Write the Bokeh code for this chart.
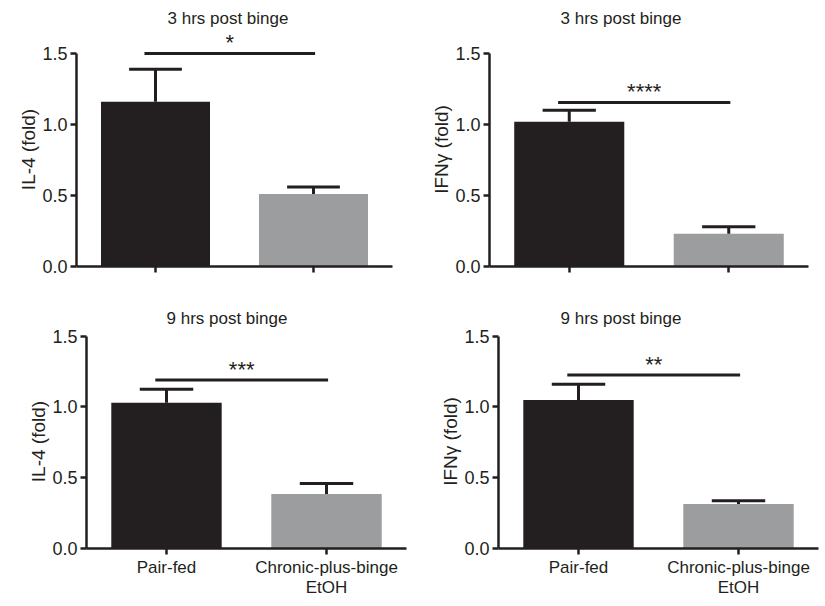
from bokeh.plotting import figure
from bokeh.layouts import column, row
from bokeh.models import Range1d, FactorRange, ColumnDataSource
from bokeh.transform import dodge
from bokeh.embed import file_html
from bokeh.resources import INLINE
from bokeh.core.properties import value

# ---- data ----
categories = ["Pair-fed", "Chronic-plus-binge\nEtOH"]
titles = ["3 hrs post binge", "3 hrs post binge", "9 hrs post binge", "9 hrs post binge"]
ylabels = ["IL-4 (fold)", "IFNγ (fold)", "IL-4 (fold)", "IFNγ (fold)"]
means_il4_3h = [1.16, 0.51]
err_il4_3h = [1.39, 0.56]
means_ifn_3h = [1.02, 0.23]
err_ifn_3h = [1.10, 0.28]
means_il4_9h = [1.03, 0.385]
err_il4_9h = [1.125, 0.46]
means_ifn_9h = [1.05, 0.315]
err_ifn_9h = [1.16, 0.337]
sig_y = [1.5, 1.155, 1.19, 1.225]
sig_labels = ["*", "****", "***", "**"]
bar_colors = ["#231f20", "#9c9d9f"]

FONT = "Liberation Sans"
INK = "#231f20"

means = [means_il4_3h, means_ifn_3h, means_il4_9h, means_ifn_9h]
errs = [err_il4_3h, err_ifn_3h, err_il4_9h, err_ifn_9h]

# layout specs per panel
specs = [
    dict(w=412, h=298, bl=76, br=20, bt=32, bb=32, yend=1.648, toff=91, tstand=10, labels=False),
    dict(w=413, h=298, bl=77, br=17, bt=32, bb=32, yend=1.648, toff=71, tstand=10, labels=False),
    dict(w=412, h=306, bl=86, br=6, bt=36, bb=56, yend=1.512, toff=80, tstand=14, labels=True),
    dict(w=413, h=306, bl=86, br=7, bt=36, bb=56, yend=1.512, toff=62, tstand=14, labels=True),
]


def make_panel(i):
    s = specs[i]
    p = figure(width=s["w"], height=s["h"], x_range=FactorRange(*categories, range_padding=0),
               y_range=Range1d(0, s["yend"]), output_backend="svg", toolbar_location=None,
               min_border_left=s["bl"], min_border_right=s["br"],
               min_border_top=s["bt"], min_border_bottom=s["bb"])
    p.outline_line_color = None
    p.grid.visible = False

    p.title.text = titles[i]
    p.title.align = "left"
    p.title.offset = s["toff"]
    p.title.text_font = FONT
    p.title.text_font_size = "17px"
    p.title.text_font_style = "normal"
    p.title.text_color = INK
    p.title.standoff = s["tstand"]

    src = ColumnDataSource(dict(x=categories, top=means[i], err=errs[i], color=bar_colors))
    p.vbar(x="x", top="top", bottom=0, width=0.69, color="color", source=src, line_width=0)
    p.segment(x0="x", y0="top", x1="x", y1="err", source=src, line_color=INK, line_width=3)
    p.segment(x0=dodge("x", -0.167, range=p.x_range), y0="err",
              x1=dodge("x", 0.167, range=p.x_range), y1="err",
              source=src, line_color=INK, line_width=3)

    # significance bracket
    sig = ColumnDataSource(dict(a=[categories[0]], b=[categories[1]], y=[sig_y[i]], t=[sig_labels[i]]))
    p.segment(x0=dodge("a", -0.07, range=p.x_range), y0="y",
              x1=dodge("b", 0.01, range=p.x_range), y1="y",
              source=sig, line_color=INK, line_width=3)
    p.text(x=dodge("a", 0.47, range=p.x_range), y="y", text="t", source=sig,
           y_offset=-11, text_align="center", text_baseline="alphabetic",
           text_font=value(FONT), text_font_size="22px", text_color=INK)

    p.yaxis.bounds = (0, 1.5)
    p.yaxis.ticker = [0.0, 0.5, 1.0, 1.5]
    p.yaxis.major_label_overrides = {0: "0.0", 0.5: "0.5", 1: "1.0", 1.5: "1.5"}
    p.yaxis.minor_tick_line_color = None
    p.yaxis.axis_label = ylabels[i]
    p.yaxis.axis_label_standoff = 0
    p.yaxis.axis_label_text_font = FONT
    p.yaxis.axis_label_text_font_size = "19px"
    p.yaxis.axis_label_text_font_style = "normal"
    p.yaxis.axis_label_text_color = INK

    for ax in (p.xaxis[0], p.yaxis[0]):
        ax.axis_line_width = 2.5
        ax.axis_line_color = INK
        ax.major_tick_line_width = 2.5
        ax.major_tick_line_color = INK
        ax.major_tick_out = 6
        ax.major_tick_in = 0
        ax.major_label_text_font = FONT
        ax.major_label_text_font_size = "18px"
        ax.major_label_text_color = INK
        ax.major_label_standoff = 3

    p.xaxis.major_label_orientation = "horizontal"
    p.xaxis.major_label_text_font_size = "17px"
    p.xaxis.major_label_text_line_height = 1.1
    if not s["labels"]:
        p.xaxis.major_label_text_color = None
        p.xaxis.major_label_text_font_size = "1px"
    return p


panels = [make_panel(i) for i in range(4)]
layout = column(row(panels[0], panels[1]), row(panels[2], panels[3]))
open("out.html", "w").write(file_html(layout, INLINE))
